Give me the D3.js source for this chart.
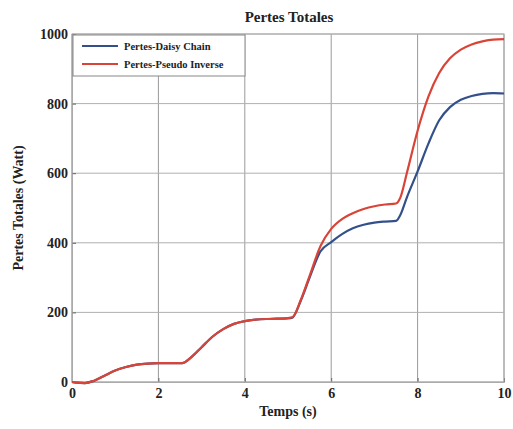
<!DOCTYPE html>
<html><head><meta charset="utf-8">
<script src="https://cdn.jsdelivr.net/npm/d3@7"></script>
<style>body{margin:0;background:#fff}</style>
</head><body>
<svg id="c" width="513" height="429"></svg>
<script>
const times = [0,0.1,0.3,0.5,0.75,1.0,1.25,1.5,1.75,2.0,2.25,2.55,2.75,3.0,3.25,3.5,3.75,4.0,4.25,4.5,4.75,5.0,5.1,5.3,5.5,5.75,6.0,6.25,6.5,6.75,7.0,7.25,7.5,7.6,7.75,8.0,8.25,8.5,8.75,9.0,9.25,9.5,9.75,10.0];
const daisyChain = [0,-2,-3,3,18,33,43,50,53,54,54,54,70,100,130,152,167,175,179,181,182,183,185,235,300,375,402,425,442,452,458,461,463,480,530,605,685,752,790,811,822,828,830,829];
const pseudoInverse = [0,-2,-3,3,18,33,43,50,53,54,54,54,70,100,130,152,167,175,179,181,182,184,186,237,305,390,440,468,485,497,505,510,513,530,600,722,820,888,930,955,970,979,984,985];
const xTicks = [0,2,4,6,8,10];
const yTicks = [0,200,400,600,800,1000];
const seriesNames = ["Pertes-Daisy Chain","Pertes-Pseudo Inverse"];
const seriesColors = ["#34508a","#d94438"];

const svg = d3.select("#c");
const L=72,R=504,T=34,B=382;
const x = d3.scaleLinear().domain([0,10]).range([L,R]);
const y = d3.scaleLinear().domain([0,1000]).range([B,T]);
const serif = "'Liberation Serif','Times New Roman',serif";

// grid
svg.append("g").selectAll("line").data(xTicks).join("line")
  .attr("x1",d=>x(d)).attr("x2",d=>x(d)).attr("y1",T).attr("y2",B)
  .attr("stroke","#9a9a9a").attr("stroke-width",1);
svg.append("g").selectAll("line").data(yTicks).join("line")
  .attr("x1",L).attr("x2",R).attr("y1",d=>y(d)).attr("y2",d=>y(d))
  .attr("stroke","#b0b0b0").attr("stroke-width",1);

// axes
const xa = svg.append("g").attr("transform",`translate(0,${B})`)
  .call(d3.axisBottom(x).tickValues(xTicks).tickFormat(d3.format("d")).tickSize(-4).tickPadding(6));
const ya = svg.append("g").attr("transform",`translate(${L},0)`)
  .call(d3.axisLeft(y).tickValues(yTicks).tickFormat(d3.format("d")).tickSize(-4).tickPadding(4));
[xa,ya].forEach(a=>{
  a.select(".domain").attr("stroke","#aaa");
  a.selectAll(".tick line").attr("stroke","#666");
  a.selectAll("text").attr("font-family",serif).attr("font-weight","bold").attr("font-size",14).attr("fill","#222");
});
svg.append("rect").attr("x",L).attr("y",T).attr("width",R-L).attr("height",B-T)
  .attr("fill","none").attr("stroke","#aaa");

// lines
const line = d3.line().x((d,i)=>x(times[i])).y(d=>y(d)).curve(d3.curveMonotoneX);
[daisyChain,pseudoInverse].forEach((s,k)=>{
  svg.append("path").datum(s).attr("d",line).attr("fill","none")
    .attr("stroke",seriesColors[k]).attr("stroke-width",2.2).attr("stroke-linejoin","round");
});

// title and labels
svg.append("text").attr("x",289).attr("y",22).attr("text-anchor","middle")
  .attr("font-family",serif).attr("font-weight","bold").attr("font-size",15).attr("fill","#222").text("Pertes Totales");
svg.append("text").attr("x",288).attr("y",416).attr("text-anchor","middle")
  .attr("font-family",serif).attr("font-weight","bold").attr("font-size",14).attr("fill","#222").text("Temps (s)");
svg.append("text").attr("transform","translate(23,208) rotate(-90)").attr("text-anchor","middle")
  .attr("font-family",serif).attr("font-weight","bold").attr("font-size",14).attr("fill","#222").text("Pertes Totales (Watt)");

// legend
const lg = svg.append("g");
lg.append("rect").attr("x",L+1).attr("y",T+1).attr("width",172).attr("height",41)
  .attr("fill","#fff").attr("stroke","#888");
seriesNames.forEach((n,k)=>{
  const yy = T+12+k*18;
  lg.append("line").attr("x1",82).attr("x2",118).attr("y1",yy).attr("y2",yy)
    .attr("stroke",seriesColors[k]).attr("stroke-width",2);
  lg.append("text").attr("x",124).attr("y",yy+4).attr("font-family",serif).attr("font-weight","bold")
    .attr("font-size",10.5).attr("fill","#222").text(n);
});
</script>
</body></html>
